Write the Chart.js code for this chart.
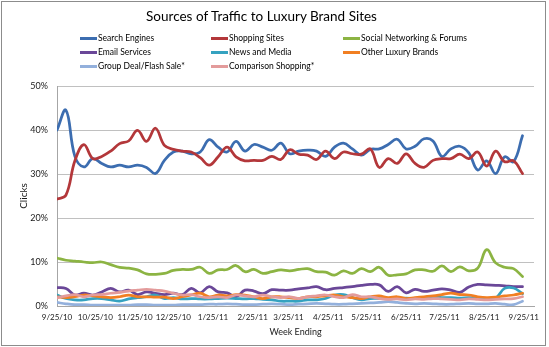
<!DOCTYPE html>
<html>
<head>
<meta charset="utf-8">
<script src="https://cdn.jsdelivr.net/npm/chart.js@4.4.0/dist/chart.umd.min.js"></script>
<style>
    body { margin: 0; background: #fff; font-family: Lato, "Open Sans", sans-serif; }
    #wrap { position: relative; width: 549px; height: 347px; }
    #frame { position: absolute; left: 1px; top: 1px; width: 543px; height: 343px; border: 1px solid #8c8c8c; pointer-events: none; }
    #title { position: absolute; left: 0; top: 8px; width: 523px; text-align: center; font-size: 13.5px; color: #000; }
    #legend { position: absolute; left: 80px; top: 31px; display: grid; grid-template-columns: 131px 132px 150px; font-size: 8.5px; color: #000; }
    .item { display: flex; align-items: center; height: 14px; white-space: nowrap; }
    .swatch { width: 17px; height: 3px; margin-right: 1px; }
    canvas { position: absolute; left: 0; top: 0; }
</style>
</head>
<body>
<div id="wrap">
    <canvas id="traffic-chart" width="549" height="347"></canvas>
    <div id="title">Sources of Traffic to Luxury Brand Sites</div>
    <div id="legend"></div>
    <div id="frame"></div>
</div>
<script>
// Week ending dates (one point per week)
const weeks = [
    "9/25/10", "10/2/10", "10/9/10", "10/16/10", "10/23/10", "10/30/10", "11/6/10", "11/13/10", "11/20/10", "11/27/10",
    "12/4/10", "12/11/10", "12/18/10", "12/25/10", "1/1/11", "1/8/11", "1/15/11", "1/22/11", "1/29/11", "2/5/11",
    "2/12/11", "2/19/11", "2/26/11", "3/5/11", "3/12/11", "3/19/11", "3/26/11", "4/2/11", "4/9/11", "4/16/11",
    "4/23/11", "4/30/11", "5/7/11", "5/14/11", "5/21/11", "5/28/11", "6/4/11", "6/11/11", "6/18/11", "6/25/11",
    "7/2/11", "7/9/11", "7/16/11", "7/23/11", "7/30/11", "8/6/11", "8/13/11", "8/20/11", "8/27/11", "9/3/11",
    "9/10/11", "9/17/11", "9/24/11"
];

const tickLabels = [
    "9/25/10", "10/25/10", "11/25/10", "12/25/10", "1/25/11", "2/25/11", "3/25/11",
    "4/25/11", "5/25/11", "6/25/11", "7/25/11", "8/25/11", "9/25/11"
];

const seriesNames = [
    "Search Engines", "Shopping Sites", "Social Networking & Forums",
    "Email Services", "News and Media", "Other Luxury Brands",
    "Group Deal/Flash Sale*", "Comparison Shopping*"
];

// share of clicks, %
const searchEngines = [
    40, 44.5, 34, 31.6, 33.5, 32.4, 31.6, 32, 31.6, 32, 31.5, 30.1, 33.1, 35, 35.2, 34.6, 35, 37.8, 36.1, 35,
    37.4, 35.2, 36.7, 36.1, 35.4, 37, 34.6, 35.2, 35.4, 35.2, 34, 36.1, 37, 35.7, 34.3, 35.6, 35.7, 36.7, 37.9, 35.7,
    36.3, 38, 37.5, 34, 35.7, 36.3, 34.8, 30.9, 33, 30.1, 33.9, 32.8, 38.7
];
const shoppingSites = [
    24.3, 25.2, 33, 36.7, 33.5, 34, 35.2, 36.9, 37.5, 39.9, 37.4, 40.4, 36.5, 35.6, 35.2, 35, 33.7, 32, 33.9, 36.1,
    33.9, 33, 33.1, 33.1, 34, 33.3, 35.5, 34.5, 34.3, 33.3, 35.2, 33.5, 35, 34.6, 34.5, 35.7, 31.5, 33.5, 32.4, 34.6,
    32.4, 31.5, 33.1, 33.5, 33.5, 34.5, 33.5, 35, 31.8, 35.2, 32.8, 33, 30.1
];
const socialNetworking = [
    10.9, 10.4, 10.2, 10, 9.85, 10, 9.4, 8.8, 8.6, 8.2, 7.3, 7.2, 7.4, 8.1, 8.3, 8.3, 8.8, 7.4, 8.2, 8.3,
    9.2, 7.8, 8.3, 7.4, 7.8, 8.2, 8, 8.3, 8.5, 7.8, 7.7, 7, 8, 7.4, 8.5, 7.8, 8.8, 7, 7.1, 7.3,
    8.2, 8.2, 7.9, 9.1, 7.8, 8.9, 8, 8.6, 12.8, 9.8, 8.8, 8.5, 6.7
];
const emailServices = [
    4.2, 4, 2.5, 2.9, 2.5, 3.2, 4, 3.2, 3.6, 2.6, 3.2, 2.9, 2.6, 2.9, 2.6, 4, 3, 4.4, 3.2, 3,
    2.1, 3.6, 3.4, 2.8, 3.7, 3.6, 3.6, 3.9, 4.1, 4.4, 3.7, 4, 4.2, 4.4, 4.7, 4.9, 4.8, 3.3, 4.4, 3,
    3.8, 3.3, 3.6, 3.9, 3.6, 3.1, 4.3, 4.9, 4.8, 4.7, 4.6, 4.4, 4.4
];
const newsMedia = [
    2.5, 1.7, 1.4, 1.4, 1.7, 1.7, 1.4, 1.1, 1.6, 1.9, 2.1, 2.5, 1.7, 1.9, 1.6, 1.7, 1.6, 1.6, 1.7, 1.8,
    1.7, 1.6, 1.7, 1.5, 1.4, 1.1, 1.1, 1.1, 1.4, 1.4, 1.7, 2.5, 2.6, 1.9, 1.4, 1.7, 1.7, 1.6, 1.7, 1.8,
    1.7, 1.9, 2.1, 1.9, 1.9, 1.8, 1.9, 1.8, 1.7, 1.8, 4, 4.1, 2.8
];
const otherLuxury = [
    2.1, 1.9, 2.1, 2.5, 2.3, 2.1, 1.9, 2.1, 2.5, 2.1, 2.1, 2, 2, 1.7, 2.1, 2.5, 2.9, 2.1, 2.5, 2.3,
    2.6, 2.5, 2.1, 1.7, 2.1, 2.1, 1.9, 1.7, 2.1, 2.1, 2.3, 2.5, 2.1, 1.9, 1.7, 2.1, 2.3, 1.9, 2.1, 1.7,
    1.9, 2.1, 2.3, 2.6, 2.9, 2.6, 2.5, 2.1, 1.9, 2, 2.3, 2.5, 2.9
];
const groupDeal = [
    0.8, 0.5, 0.3, 0.3, 0.2, 0.2, 0.2, 0.2, 0.2, 0.3, 0.3, 0.2, 0.2, 0.2, 0.3, 0.3, 0.3, 0.4, 0.4, 0.5,
    0.4, 0.3, 0.3, 0.4, 0.5, 0.4, 0.3, 0.4, 0.5, 0.6, 0.5, 0.4, 0.4, 0.5, 0.6, 0.7, 0.8, 1, 0.8, 0.6,
    0.5, 0.6, 0.5, 0.4, 0.4, 0.5, 0.6, 0.5, 0.5, 0.6, 0.4, 0.3, 1.1
];
const comparisonShopping = [
    1.9, 2.3, 2.6, 2.1, 2.5, 2.6, 2.9, 3.1, 3.4, 3.6, 3.8, 3.6, 3.4, 2.9, 2.5, 2.6, 2.1, 1.9, 2.1, 1.9,
    2.5, 2.3, 2.1, 2.5, 2.1, 1.9, 2.1, 1.7, 2.1, 2.3, 2.5, 2.1, 1.9, 2.6, 2.1, 2.1, 1.7, 1.5, 1.6, 1.4,
    1.6, 1.5, 1.7, 1.6, 1.5, 1.4, 1.6, 1.5, 1.4, 1.5, 1.6, 1.7, 2.1
];

const seriesValues = [
    searchEngines, shoppingSites, socialNetworking, emailServices,
    newsMedia, otherLuxury, groupDeal, comparisonShopping
];

const colors = ["#3C6DB0", "#B3373A", "#8CB443", "#6A4798", "#35A2C0", "#F17F22", "#93B0DC", "#E39B9B"];

// days since the first week, so weeks and month ticks share one linear axis
function toDay(str) {
    const [m, d, y] = str.split("/").map(Number);
    const base = new Date(2010, 8, 25);
    return Math.round((new Date(2000 + y, m - 1, d) - base) / 86400000);
}

const weekDays = weeks.map(toDay);
const tickDays = tickLabels.map(toDay);

const axisFont = { family: "Lato, 'Open Sans', sans-serif", size: 9 };

const ctx = document.getElementById("traffic-chart").getContext("2d");
const chart = new Chart(ctx, {
    type: "line",
    data: {
        datasets: seriesNames.map((name, i) => ({
            label: name,
            data: seriesValues[i].map((v, k) => ({ x: weekDays[k], y: v })),
            borderColor: colors[i],
            backgroundColor: colors[i],
            order: seriesNames.length - i,
        })),
    },
    options: {
        responsive: false,
        animation: false,
        layout: { padding: { top: 86, right: 15, bottom: 0, left: 0 } },
        plugins: { legend: { display: false }, tooltip: { enabled: false } },
        elements: {
            point: { radius: 0 },
            line: { tension: 0.4, borderWidth: 2.75, borderCapStyle: "round", borderJoinStyle: "round" },
        },
        scales: {
            x: {
                type: "linear",
                min: 0,
                max: 373,
                afterBuildTicks: (scale) => { scale.ticks = tickDays.map((v) => ({ value: v })); },
                afterFit: (scale) => { scale.height = 41; },
                ticks: {
                    autoSkip: false,
                    maxRotation: 0,
                    padding: 7,
                    color: "#1a1a1a",
                    font: { ...axisFont, size: 8 },
                    callback: (v, i) => tickLabels[i],
                },
                grid: { display: false, drawTicks: false },
                border: { color: "#a6a6a6" },
                title: { display: true, text: "Week Ending", color: "#1a1a1a", font: axisFont, padding: { top: 0, bottom: 10 } },
            },
            y: {
                min: 0,
                max: 50,
                afterFit: (scale) => { scale.width = 57; },
                ticks: { stepSize: 10, padding: 9, color: "#1a1a1a", font: axisFont, callback: (v) => v + "%" },
                grid: { color: "#c0c0c0", drawTicks: false },
                border: { color: "#a6a6a6" },
                title: { display: true, text: "Clicks", color: "#1a1a1a", font: { ...axisFont, size: 10 }, padding: { top: 18, bottom: 0 } },
            },
        },
    },
});

// three-column legend under the title
const legendEl = document.getElementById("legend");
legendEl.innerHTML = chart.data.datasets
    .map((ds) => `<div class="item"><span class="swatch" style="background:${ds.borderColor}"></span>${ds.label}</div>`)
    .join("");
</script>
</body>
</html>
